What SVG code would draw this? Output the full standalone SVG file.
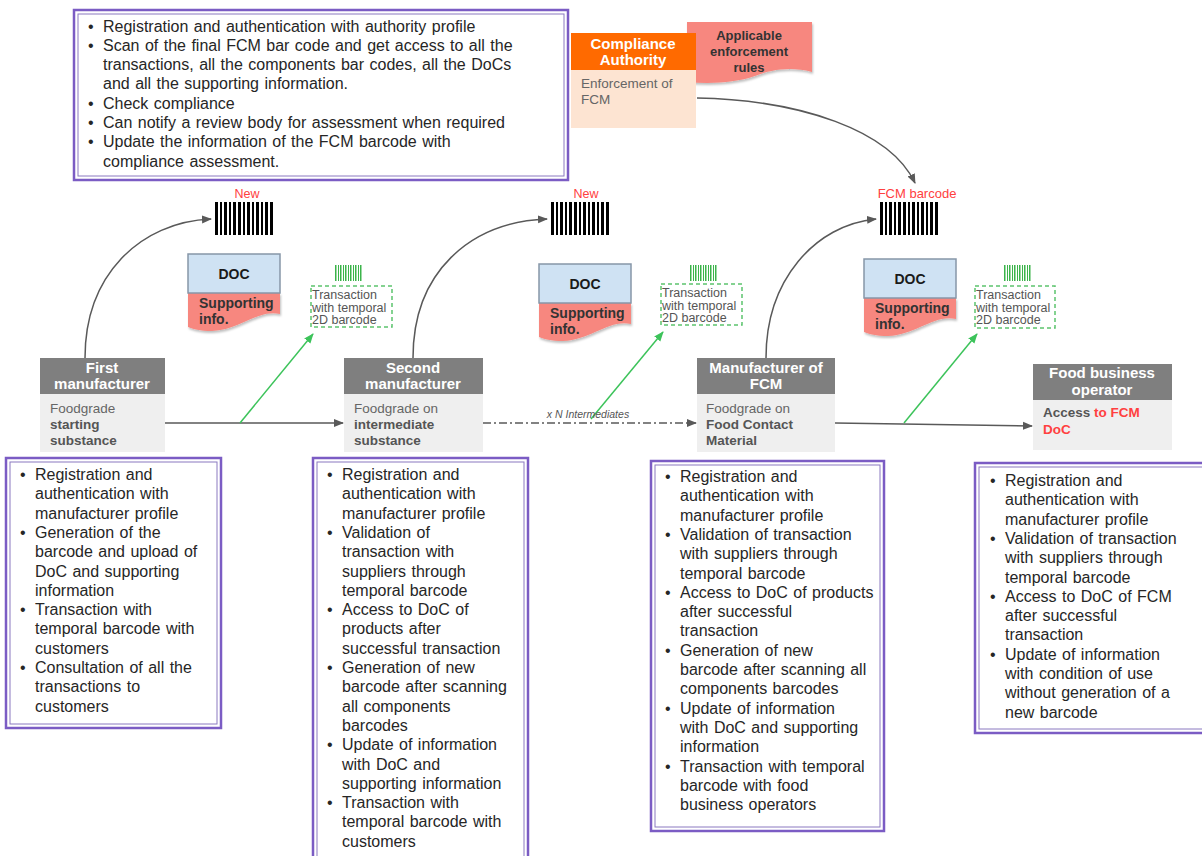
<svg xmlns="http://www.w3.org/2000/svg" xmlns:xlink="http://www.w3.org/1999/xlink" width="1202" height="856" viewBox="0 0 1202 856">
<style>
text{font-family:"Liberation Sans",Arial,sans-serif}
.lst{font-size:16px;fill:#262626;word-spacing:1px}
.hd{font-size:15px;font-weight:bold;fill:#fff;text-anchor:middle}
.bd{font-size:13.5px;fill:#666}
.bb{font-size:13.5px;fill:#555;font-weight:bold}
.doc{font-size:14px;font-weight:bold;fill:#1a1a1a;text-anchor:middle}
.sup{font-size:14px;font-weight:bold;fill:#333}
.tr{font-size:12.5px;fill:#555}
.red{fill:#ff4040}
.hdr{fill:#7f7f7f}
.body{fill:#efefef}
.pbox{fill:#fff;stroke:#7b5cc4;stroke-width:2.5}
.pin{fill:none;stroke:#8a78c0;stroke-width:1}
.docb{fill:#cfe2f3;stroke:#8796a8;stroke-width:1.5}
.pink{fill:#f7877f}
.dash{fill:none;stroke:#5cc46e;stroke-width:1.5;stroke-dasharray:4 3}
.conn{fill:none;stroke:#595959;stroke-width:1.5}
.gconn{fill:none;stroke:#3cc35a;stroke-width:1.5}
</style>
<defs>
<marker id="ah" viewBox="0 0 10 10" refX="9" refY="5" markerWidth="10" markerHeight="10" markerUnits="userSpaceOnUse" orient="auto"><path d="M0,1 L10,5 L0,9 Z" fill="#595959"/></marker>
<marker id="ahg" viewBox="0 0 10 10" refX="9" refY="5" markerWidth="10" markerHeight="10" markerUnits="userSpaceOnUse" orient="auto"><path d="M0,1 L10,5 L0,9 Z" fill="#3cc35a"/></marker>
<filter id="sh" x="-10%" y="-10%" width="130%" height="130%"><feDropShadow dx="1" dy="2" stdDeviation="1.2" flood-color="#000" flood-opacity="0.25"/></filter>
<g id="bc" fill="#000">
<rect x="0" y="0" width="3" height="33"/><rect x="5" y="0" width="2" height="33"/><rect x="9" y="0" width="3" height="33"/><rect x="14" y="0" width="2" height="33"/><rect x="18" y="0" width="3" height="33"/><rect x="23" y="0" width="3" height="33"/><rect x="28" y="0" width="2" height="33"/><rect x="32" y="0" width="3" height="33"/><rect x="37" y="0" width="2" height="33"/><rect x="41" y="0" width="3" height="33"/><rect x="46" y="0" width="2" height="33"/><rect x="50" y="0" width="3" height="33"/><rect x="55" y="0" width="3" height="33"/>
</g>
<g id="gbc" fill="#3cb44b">
<rect x="0" y="0" width="1.5" height="16"/><rect x="3" y="0" width="1" height="16"/><rect x="5" y="0" width="1.5" height="16"/><rect x="8" y="0" width="1" height="16"/><rect x="10" y="0" width="1.5" height="16"/><rect x="13" y="0" width="1" height="16"/><rect x="15" y="0" width="1.5" height="16"/><rect x="18" y="0" width="1" height="16"/><rect x="20" y="0" width="1.5" height="16"/><rect x="23" y="0" width="1" height="16"/><rect x="25" y="0" width="1.5" height="16"/>
</g>
</defs>
<rect width="1202" height="856" fill="#fff"/>

<g id="connectors">
<path class="conn" d="M85,358 C85,275 140,222 211,219" marker-end="url(#ah)"/>
<path class="conn" d="M413,358 C413,272 470,222 547,219" marker-end="url(#ah)"/>
<path class="conn" d="M766,358 C766,280 815,225 876,219" marker-end="url(#ah)"/>
<path class="conn" d="M697,98 C800,100 890,130 915,183" marker-end="url(#ah)"/>
<path class="conn" d="M165,423 H343" marker-end="url(#ah)"/>
<path class="conn" d="M483,423 H696" stroke-dasharray="8 3 2 3" marker-end="url(#ah)"/>
<path class="conn" d="M835,423 L1032,426" marker-end="url(#ah)"/>
<path class="gconn" d="M240,423 L313,334" marker-end="url(#ahg)"/>
<path class="gconn" d="M591,419 L663,332" marker-end="url(#ahg)"/>
<path class="gconn" d="M904,423 L977,334" marker-end="url(#ahg)"/>
<text x="588" y="418" text-anchor="middle" style="font-size:10.5px;font-style:italic;fill:#555">x N Intermediates</text>
</g>

<g id="authority-tasks">
<rect class="pbox" x="74" y="10" width="494" height="170"/>
<rect class="pin" x="78" y="14" width="486" height="162"/>
<g class="lst">
<text x="88" y="31.5">•</text><text x="103" y="31.5">Registration and authentication with authority profile</text>
<text x="88" y="50.8">•</text><text x="103" y="50.8">Scan of the final FCM bar code and get access to all the</text>
<text x="103" y="70.1">transactions, all the components bar codes, all the DoCs</text>
<text x="103" y="89.4">and all the supporting information.</text>
<text x="88" y="108.7">•</text><text x="103" y="108.7">Check compliance</text>
<text x="88" y="128">•</text><text x="103" y="128">Can notify a review body for assessment when required</text>
<text x="88" y="147.3">•</text><text x="103" y="147.3">Update the information of the FCM barcode with</text>
<text x="103" y="166.6">compliance assessment.</text>
</g>
</g>

<g id="enforcement-rules">
<path class="pink" filter="url(#sh)" d="M687,22 H812 V72 C790,66 770,70 755,76 C735,83 710,84 687,82 Z"/>
<text x="749" y="40" text-anchor="middle" style="font-size:13px;font-weight:bold;fill:#333">Applicable</text>
<text x="749" y="56" text-anchor="middle" style="font-size:13px;font-weight:bold;fill:#333">enforcement</text>
<text x="749" y="72" text-anchor="middle" style="font-size:13px;font-weight:bold;fill:#333">rules</text>
</g>

<g id="compliance-authority">
<rect x="571" y="33" width="125" height="37" fill="#ff6a00"/>
<rect x="571" y="70" width="125" height="58" fill="#fde4d2"/>
<text class="hd" x="633" y="49">Compliance</text>
<text class="hd" x="633" y="65">Authority</text>
<text class="bd" x="581" y="88">Enforcement of</text>
<text class="bd" x="581" y="104">FCM</text>
</g>

<g id="barcode-1">
<text x="247" y="198" text-anchor="middle" class="red" style="font-size:12.5px">New</text>
<use xlink:href="#bc" x="215" y="202"/>
</g>
<g id="barcode-2">
<text x="586" y="198" text-anchor="middle" class="red" style="font-size:12.5px">New</text>
<use xlink:href="#bc" x="551" y="202"/>
</g>
<g id="barcode-3">
<text x="917" y="198" text-anchor="middle" class="red" style="font-size:13px">FCM barcode</text>
<use xlink:href="#bc" x="880" y="202"/>
</g>

<g id="doc-1">
<path class="pink" filter="url(#sh)" d="M188,293 H280 V314 C258,309 240,330 212,331 C200,331 193,329 188,327 Z"/>
<rect class="docb" x="188" y="254" width="92" height="39"/>
<text class="doc" x="234" y="279">DOC</text>
<text class="sup" x="199" y="308">Supporting</text>
<text class="sup" x="199" y="324">info.</text>
</g>
<g id="doc-2">
<path class="pink" filter="url(#sh)" d="M539,303 H631 V324 C609,319 591,340 563,341 C551,341 544,339 539,337 Z"/>
<rect class="docb" x="539" y="264" width="92" height="39"/>
<text class="doc" x="585" y="289">DOC</text>
<text class="sup" x="550" y="318">Supporting</text>
<text class="sup" x="550" y="334">info.</text>
</g>
<g id="doc-3">
<path class="pink" filter="url(#sh)" d="M864,298 H956 V319 C934,314 916,335 888,336 C876,336 869,334 864,332 Z"/>
<rect class="docb" x="864" y="259" width="92" height="39"/>
<text class="doc" x="910" y="284">DOC</text>
<text class="sup" x="875" y="313">Supporting</text>
<text class="sup" x="875" y="329">info.</text>
</g>

<g id="transaction-1">
<use xlink:href="#gbc" x="335" y="265"/>
<rect class="dash" x="311" y="286" width="81" height="41"/>
<text class="tr" x="312" y="299">Transaction</text>
<text class="tr" x="312" y="312">with temporal</text>
<text class="tr" x="312" y="324">2D barcode</text>
</g>
<g id="transaction-2">
<use xlink:href="#gbc" x="690" y="265"/>
<rect class="dash" x="661" y="284" width="81" height="41"/>
<text class="tr" x="662" y="297">Transaction</text>
<text class="tr" x="662" y="310">with temporal</text>
<text class="tr" x="662" y="322">2D barcode</text>
</g>
<g id="transaction-3">
<use xlink:href="#gbc" x="1004" y="265"/>
<rect class="dash" x="975" y="286" width="80" height="42"/>
<text class="tr" x="976" y="299">Transaction</text>
<text class="tr" x="976" y="312">with temporal</text>
<text class="tr" x="976" y="324">2D barcode</text>
</g>

<g id="first-manufacturer">
<rect class="hdr" x="40" y="358" width="125" height="36"/>
<rect class="body" x="40" y="394" width="125" height="58"/>
<text class="hd" x="102" y="373">First</text>
<text class="hd" x="102" y="389">manufacturer</text>
<text class="bd" x="50" y="413">Foodgrade</text>
<text class="bb" x="50" y="429">starting</text>
<text class="bb" x="50" y="445">substance</text>
</g>
<g id="second-manufacturer">
<rect class="hdr" x="344" y="358" width="139" height="36"/>
<rect class="body" x="344" y="394" width="139" height="58"/>
<text class="hd" x="413" y="373">Second</text>
<text class="hd" x="413" y="389">manufacturer</text>
<text class="bd" x="354" y="413">Foodgrade on</text>
<text class="bb" x="354" y="429">intermediate</text>
<text class="bb" x="354" y="445">substance</text>
</g>
<g id="fcm-manufacturer">
<rect class="hdr" x="697" y="358" width="138" height="36"/>
<rect class="body" x="697" y="394" width="138" height="58"/>
<text class="hd" x="766" y="373">Manufacturer of</text>
<text class="hd" x="766" y="389">FCM</text>
<text class="bd" x="706" y="413">Foodgrade on</text>
<text class="bb" x="706" y="429">Food Contact</text>
<text class="bb" x="706" y="445">Material</text>
</g>
<g id="food-business-operator">
<rect class="hdr" x="1033" y="364" width="139" height="36"/>
<rect class="body" x="1033" y="400" width="139" height="50"/>
<text class="hd" x="1102" y="378">Food business</text>
<text class="hd" x="1102" y="395">operator</text>
<text class="bb" x="1043" y="417">Access <tspan class="red">to FCM</tspan></text>
<text class="bb red" x="1043" y="434">DoC</text>
</g>

<g id="tasks-first">
<rect class="pbox" x="6" y="458" width="215" height="270"/>
<rect class="pin" x="10" y="462" width="207" height="262"/>
<g class="lst">
<text x="20" y="480">•</text><text x="35" y="480">Registration and</text>
<text x="35" y="499.3">authentication with</text>
<text x="35" y="518.6">manufacturer profile</text>
<text x="20" y="537.9">•</text><text x="35" y="537.9">Generation of the</text>
<text x="35" y="557.2">barcode and upload of</text>
<text x="35" y="576.5">DoC and supporting</text>
<text x="35" y="595.8">information</text>
<text x="20" y="615.1">•</text><text x="35" y="615.1">Transaction with</text>
<text x="35" y="634.4">temporal barcode with</text>
<text x="35" y="653.7">customers</text>
<text x="20" y="673">•</text><text x="35" y="673">Consultation of all the</text>
<text x="35" y="692.3">transactions to</text>
<text x="35" y="711.6">customers</text>
</g>
</g>

<g id="tasks-second">
<rect class="pbox" x="313" y="458" width="215" height="410"/>
<rect class="pin" x="317" y="462" width="207" height="402"/>
<g class="lst">
<text x="327" y="480">•</text><text x="342" y="480">Registration and</text>
<text x="342" y="499.3">authentication with</text>
<text x="342" y="518.6">manufacturer profile</text>
<text x="327" y="537.9">•</text><text x="342" y="537.9">Validation of</text>
<text x="342" y="557.2">transaction with</text>
<text x="342" y="576.5">suppliers through</text>
<text x="342" y="595.8">temporal barcode</text>
<text x="327" y="615.1">•</text><text x="342" y="615.1">Access to DoC of</text>
<text x="342" y="634.4">products after</text>
<text x="342" y="653.7">successful transaction</text>
<text x="327" y="673">•</text><text x="342" y="673">Generation of new</text>
<text x="342" y="692.3">barcode after scanning</text>
<text x="342" y="711.6">all components</text>
<text x="342" y="730.9">barcodes</text>
<text x="327" y="750.2">•</text><text x="342" y="750.2">Update of information</text>
<text x="342" y="769.5">with DoC and</text>
<text x="342" y="788.8">supporting information</text>
<text x="327" y="808.1">•</text><text x="342" y="808.1">Transaction with</text>
<text x="342" y="827.4">temporal barcode with</text>
<text x="342" y="846.7">customers</text>
</g>
</g>

<g id="tasks-fcm">
<rect class="pbox" x="651" y="461" width="233" height="370"/>
<rect class="pin" x="655" y="465" width="225" height="362"/>
<g class="lst">
<text x="665" y="482">•</text><text x="680" y="482">Registration and</text>
<text x="680" y="501.3">authentication with</text>
<text x="680" y="520.6">manufacturer profile</text>
<text x="665" y="539.9">•</text><text x="680" y="539.9">Validation of transaction</text>
<text x="680" y="559.2">with suppliers through</text>
<text x="680" y="578.5">temporal barcode</text>
<text x="665" y="597.8">•</text><text x="680" y="597.8">Access to DoC of products</text>
<text x="680" y="617.1">after successful</text>
<text x="680" y="636.4">transaction</text>
<text x="665" y="655.7">•</text><text x="680" y="655.7">Generation of new</text>
<text x="680" y="675">barcode after scanning all</text>
<text x="680" y="694.3">components barcodes</text>
<text x="665" y="713.6">•</text><text x="680" y="713.6">Update of information</text>
<text x="680" y="732.9">with DoC and supporting</text>
<text x="680" y="752.2">information</text>
<text x="665" y="771.5">•</text><text x="680" y="771.5">Transaction with temporal</text>
<text x="680" y="790.8">barcode with food</text>
<text x="680" y="810.1">business operators</text>
</g>
</g>

<g id="tasks-fbo">
<rect class="pbox" x="975" y="463" width="240" height="270"/>
<rect class="pin" x="979" y="467" width="240" height="262"/>
<g class="lst">
<text x="990" y="486">•</text><text x="1005" y="486">Registration and</text>
<text x="1005" y="505.3">authentication with</text>
<text x="1005" y="524.6">manufacturer profile</text>
<text x="990" y="543.9">•</text><text x="1005" y="543.9">Validation of transaction</text>
<text x="1005" y="563.2">with suppliers through</text>
<text x="1005" y="582.5">temporal barcode</text>
<text x="990" y="601.8">•</text><text x="1005" y="601.8">Access to DoC of FCM</text>
<text x="1005" y="621.1">after successful</text>
<text x="1005" y="640.4">transaction</text>
<text x="990" y="659.7">•</text><text x="1005" y="659.7">Update of information</text>
<text x="1005" y="679">with condition of use</text>
<text x="1005" y="698.3">without generation of a</text>
<text x="1005" y="717.6">new barcode</text>
</g>
</g>
</svg>
